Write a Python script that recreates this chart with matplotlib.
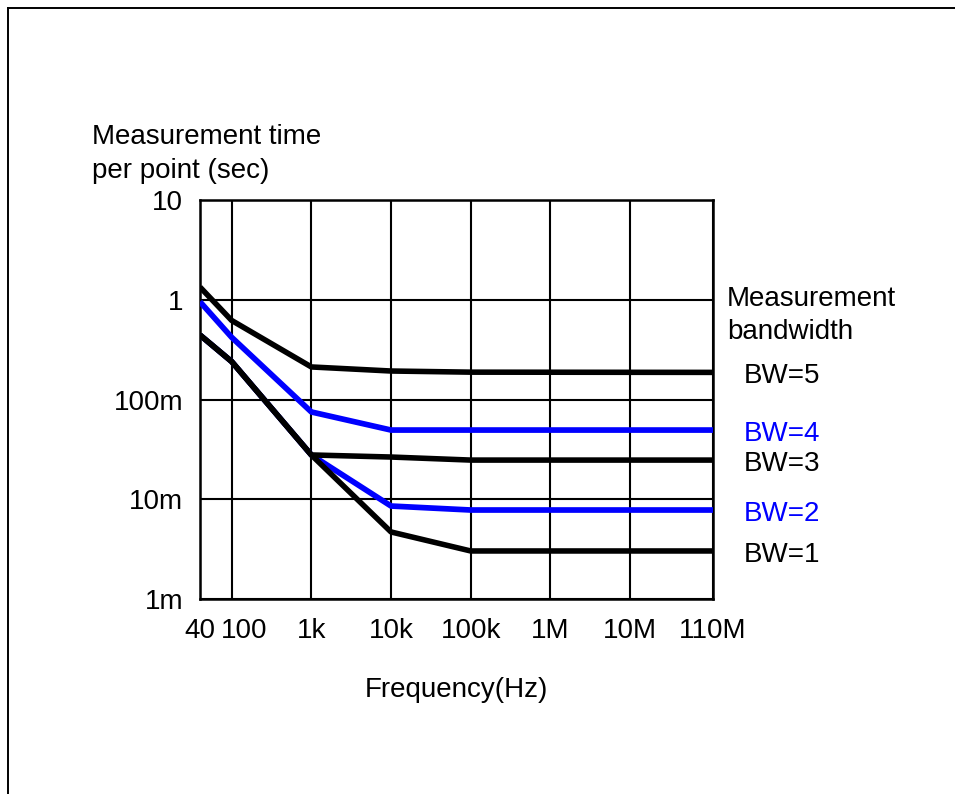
import matplotlib.pyplot as plt
from matplotlib.lines import Line2D
from matplotlib.ticker import FixedLocator, FixedFormatter, NullLocator
import matplotlib.transforms as mtransforms

plt.rcParams['font.family'] = ['Liberation Sans', 'DejaVu Sans']

# frequency points (Hz)
freq = [40, 100, 1e3, 1e4, 1e5, 110e6]

bw5 = [1.34, 0.62, 0.212, 0.193, 0.188, 0.187]
bw4 = [0.955, 0.42, 0.075, 0.0494, 0.0494, 0.0494]
bw3 = [0.443, 0.24, 0.0278, 0.0265, 0.0247, 0.0247]
bw2 = [0.443, 0.24, 0.0278, 0.00855, 0.0078, 0.0078]
bw1 = [0.443, 0.24, 0.0278, 0.0047, 0.00303, 0.00303]

x_ticks = [40, 100, 1e3, 1e4, 1e5, 1e6, 1e7, 110e6]
x_labels = ['40', '100', '1k', '10k', '100k', '1M', '10M', '110M']
y_ticks = [1e-3, 1e-2, 1e-1, 1, 10]
y_labels = ['1m', '10m', '100m', '1', '10']

blue = '#0000ff'
fs = 20

fig = plt.figure(figsize=(9.55, 7.94), dpi=100)
ax = fig.add_axes([0.2094, 0.2456, 0.5372, 0.5025])
ax.set_xscale('log')
ax.set_yscale('log')
ax.set_xlim(40, 110e6)
ax.set_ylim(1e-3, 10)

# curves (blue ones first so the shared black part stays on top)
kw = dict(solid_capstyle='butt', solid_joinstyle='round')
ax.plot(freq, bw2, color=blue, lw=4.1, zorder=3, **kw)
ax.plot(freq, bw4, color=blue, lw=4.1, zorder=3, **kw)
ax.plot(freq, bw5, color='black', lw=4.0, zorder=4, **kw)
ax.plot(freq, bw3, color='black', lw=4.0, zorder=4, **kw)
ax.plot(freq, bw1, color='black', lw=4.0, zorder=4, **kw)

ax.xaxis.set_major_locator(FixedLocator(x_ticks))
ax.xaxis.set_major_formatter(FixedFormatter(x_labels))
ax.yaxis.set_major_locator(FixedLocator(y_ticks))
ax.yaxis.set_major_formatter(FixedFormatter(y_labels))
ax.xaxis.set_minor_locator(NullLocator())
ax.yaxis.set_minor_locator(NullLocator())
ax.tick_params(axis='both', length=0, labelsize=fs)
ax.tick_params(axis='x', pad=14)
ax.tick_params(axis='y', pad=12)
ax.grid(True, color='black', lw=1.5, zorder=1)
for s in ax.spines.values():
    s.set_linewidth(1.8)

# "100" label sits a little right of its grid line
fig.canvas.draw()
lbl100 = ax.get_xticklabels()[1]
lbl100.set_transform(lbl100.get_transform() +
                     mtransforms.ScaledTranslation(0.12, 0, fig.dpi_scale_trans))

# labels on the right
tr = ax.get_yaxis_transform()
ax.text(1.027, 0.70, 'Measurement\nbandwidth', transform=tr, fontsize=fs,
        va='center', ha='left', linespacing=1.33)
bw_names = ['BW=5', 'BW=4', 'BW=3', 'BW=2', 'BW=1']
bw_last = [bw5[-1], bw4[-1], bw3[-1], bw2[-1], bw1[-1]]
bw_cols = ['black', blue, 'black', blue, 'black']
for name, yv, c in zip(bw_names, bw_last, bw_cols):
    ax.annotate(name, xy=(1.06, yv), xycoords=tr, xytext=(0, -2.6),
                textcoords='offset points', fontsize=fs, color=c,
                va='center', ha='left')

fig.text(0.0963, 0.806, 'Measurement time\nper point (sec)', fontsize=fs,
         ha='left', va='center', linespacing=1.36)
fig.text(0.478, 0.131, 'Frequency(Hz)', fontsize=fs, ha='center', va='center')

# outer frame (left and top edges visible)
fig.add_artist(Line2D([0.0089, 0.0089], [0, 0.99], color='black', lw=1.4,
                      transform=fig.transFigure))
fig.add_artist(Line2D([0.0089, 1.0], [0.99, 0.99], color='black', lw=1.4,
                      transform=fig.transFigure))

fig.savefig('out.png', dpi=100)
